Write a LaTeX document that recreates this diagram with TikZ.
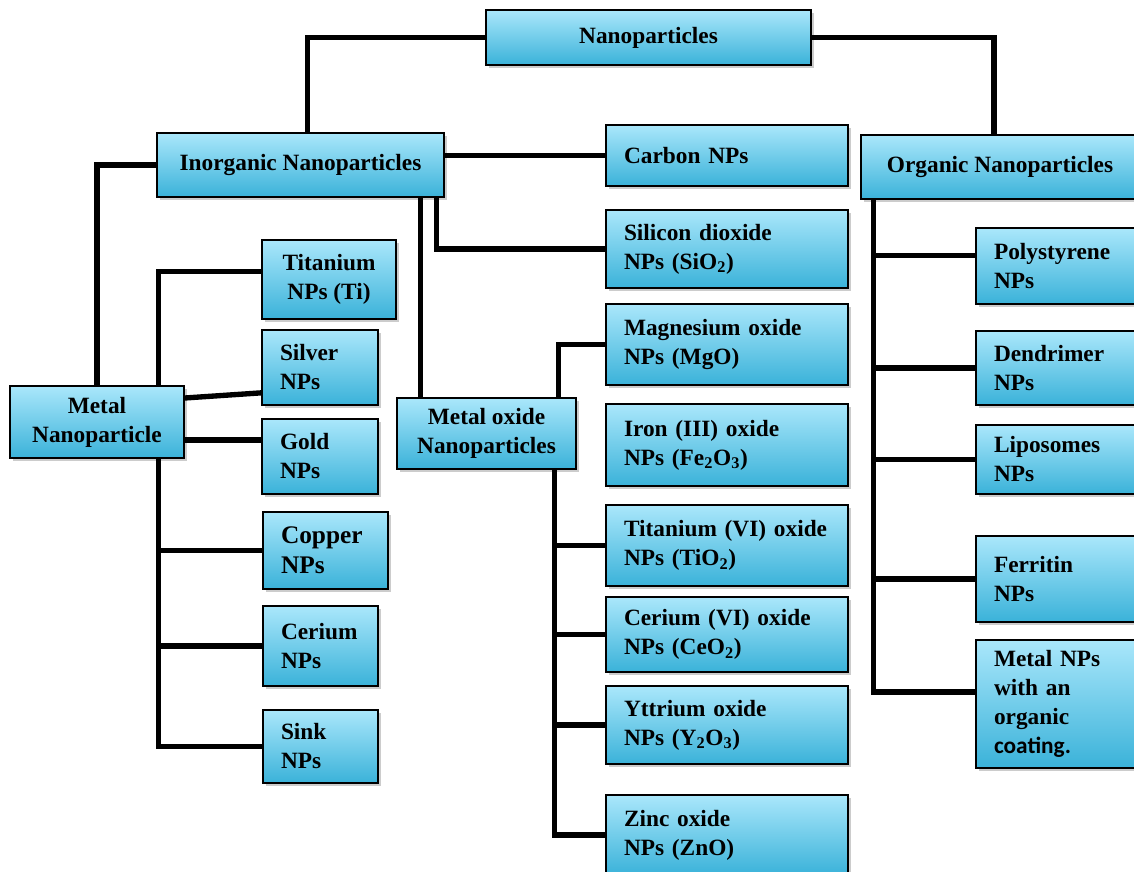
\documentclass[tikz,border=0pt]{standalone}
\usepackage{fontspec}
\setmainfont{Liberation Serif}
\newfontfamily\calfont{Carlito}
\usepackage{xcolor}
\usepackage{tikz}
\usetikzlibrary{positioning,calc,shadows}
\definecolor{boxtop}{RGB}{170,231,251}
\definecolor{boxbot}{RGB}{58,178,217}
\tikzset{
    npbox/.style={
        draw=black,
        line width=0.9pt,
        top color=boxtop,
        bottom color=boxbot,
        drop shadow={shadow xshift=2pt, shadow yshift=-2.5pt, opacity=0.4},
        inner sep=0pt,
        font=\bfseries\fontsize{17.5}{21.75}\selectfont
    },
    midbox/.style 2 args={
        npbox,
        minimum width=#1*0.75pt,
        minimum height=#2*0.75pt,
        align=center
    },
    leftbox/.style 2 args={
        npbox,
        minimum width=#1*0.75pt,
        minimum height=#2*0.75pt,
        text width=(#1-36)*0.75pt,
        align=left
    },
    link/.style={
        draw,
        line width=4pt,
        line join=miter
    }
}

\begin{document}
\begin{tikzpicture}[x=0.75pt,y=-0.75pt]
    \useasboundingbox (0,0) rectangle (1134,871);

    % top levels
    \node[midbox={325}{55}] (np) at (648.5,37.5) {Nanoparticles};
    \node[midbox={287}{64}] (inorg) at (300.5,165) {Inorganic Nanoparticles};
    \node[midbox={278}{64}] (org) at (1000,167) {Organic Nanoparticles};

    % inorganic side
    \node[leftbox={242}{61}] (carbon) at (727,155.5) {Carbon NPs};
    \node[leftbox={242}{78}] (sio2) at (727,249) {Silicon dioxide\\NPs (SiO\textsubscript{2})};
    \node[midbox={174}{72}] (metal) at (97,422) {Metal\\Nanoparticle};
    \node[midbox={179}{71}] (moxide) at (486.5,433.5) {Metal oxide\\Nanoparticles};

    % metal nanoparticles
    \node[midbox={134}{79}] (ti) at (329,279.5) {Titanium\\NPs (Ti)};
    \node[leftbox={116}{75}] (silver) at (320,367.5) {Silver\\NPs};
    \node[leftbox={116}{75}] (gold) at (320,456.5) {Gold\\NPs};
    \node[leftbox={125}{77}, font=\bfseries\fontsize{19}{22.5}\selectfont] (copper) at (325.5,550.5) {Copper\\NPs};
    \node[leftbox={115}{80}] (cerium) at (320.5,646) {Cerium\\NPs};
    \node[leftbox={115}{73}] (sink) at (320.5,746.5) {Sink\\NPs};

    % metal oxide nanoparticles
    \node[leftbox={242}{81}] (mgo) at (727,344.5) {Magnesium oxide\\NPs (MgO)};
    \node[leftbox={242}{82}] (fe) at (727,445) {Iron (III) oxide\\NPs (Fe\textsubscript{2}O\textsubscript{3})};
    \node[leftbox={242}{81}] (tio2) at (727,545.5) {Titanium (VI) oxide\\NPs (TiO\textsubscript{2})};
    \node[leftbox={242}{75}] (ceo2) at (727,634.5) {Cerium (VI) oxide\\NPs (CeO\textsubscript{2})};
    \node[leftbox={242}{78}] (y2o3) at (727,725) {Yttrium oxide\\NPs (Y\textsubscript{2}O\textsubscript{3})};
    \node[leftbox={242}{80}] (zno) at (727,835) {Zinc oxide\\NPs (ZnO)};

    % organic nanoparticles
    \node[leftbox={164}{76}] (poly) at (1058,266) {Polystyrene\\NPs};
    \node[leftbox={164}{74}] (dend) at (1058,368) {Dendrimer\\NPs};
    \node[leftbox={164}{69}] (lipo) at (1058,459.5) {Liposomes\\NPs};
    \node[leftbox={164}{86}] (ferr) at (1058,579) {Ferritin\\NPs};
    \node[leftbox={164}{128}] (coat) at (1058,704) {Metal NPs\\with an\\organic\\{\calfont coating.}};

    % connectors
    \draw[link] (np.west) -| ([xshift=5pt]inorg.north);
    \draw[link] (np.east) -| ([xshift=-4.5pt]org.north);
    \draw[link] (inorg.east |- carbon.west) -- (carbon.west);
    \draw[link] (inorg.west) -| (metal.north);
    \draw[link] ([xshift=-6pt]inorg.south east) |- (sio2.west);

    \coordinate (moup) at ([xshift=18pt]moxide.north west);
    \draw[link] (moup) -- (moup |- inorg.south);
    \draw[link] ([xshift=-13.5pt]moxide.north east) |- (mgo.west);
    \coordinate (modown) at ([xshift=-16.5pt]moxide.south east);
    \draw[link] (modown) |- (zno.west);
    \foreach \b in {tio2,ceo2,y2o3}
        \draw[link] (modown |- \b.west) -- (\b.west);

    \coordinate (mup) at ([xshift=-19.5pt]metal.north east);
    \draw[link] (mup) |- ([yshift=6pt]ti.west);
    \draw[link] ([yshift=18pt]metal.east) -- ([yshift=-19pt]silver.west);
    \coordinate (mgold) at ([yshift=-13.5pt]metal.east);
    \draw[link] (mgold) -- (mgold -| gold.west);
    \coordinate (mdown) at ([xshift=-19.5pt]metal.south east);
    \draw[link] (mdown) |- (sink.west);
    \foreach \b in {copper,cerium}
        \draw[link] (mdown |- \b.west) -- (\b.west);

    \coordinate (odown) at ([xshift=9.75pt]org.south west);
    \draw[link] (odown) |- ([yshift=9pt]coat.west);
    \coordinate (opoly) at ([yshift=8pt]poly.west);
    \draw[link] (odown |- opoly) -- (opoly);
    \foreach \b in {dend,lipo,ferr}
        \draw[link] (odown |- \b.west) -- (\b.west);
\end{tikzpicture}
\end{document}
